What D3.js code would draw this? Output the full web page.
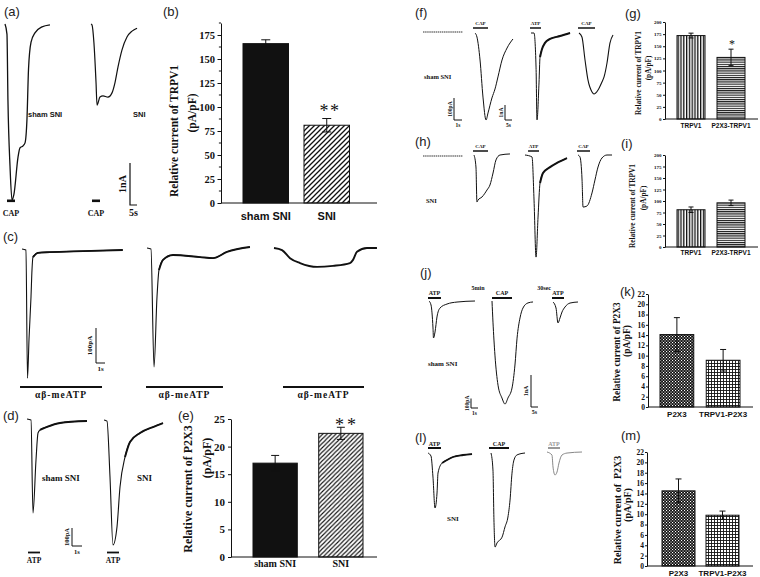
<!DOCTYPE html>
<html><head><meta charset="utf-8">
<script src="https://cdn.jsdelivr.net/npm/d3@7"></script>
<style>body{margin:0;background:#fff}svg{display:block}</style>
</head><body>
<script>
// ================= DATA =================
// Bar charts
const sniCats = ["sham SNI", "SNI"];
const bValues = [166, 81];
const bErrors = [4, 7];
const bTicks = [0, 25, 50, 75, 100, 125, 150, 175];
const bMinorTicks = [12.5, 37.5, 62.5, 87.5, 112.5, 137.5, 162.5, 187.5];
const eValues = [17.0, 22.4];
const eErrors = [1.4, 1.1];
const eTicks = [0, 5, 10, 15, 20, 25];
const trpvCats = ["TRPV1", "P2X3-TRPV1"];
const gValues = [172, 127];
const gErrors = [5, 17];
const iValues = [81, 96];
const iErrors = [6, 6];
const trpvTicks = [0, 25, 50, 75, 100, 125, 150, 175, 200];
const p2x3Cats = ["P2X3", "TRPV1-P2X3"];
const kValues = [14.1, 9.1];
const kErrors = [3.3, 2.1];
const mValues = [14.5, 9.8];
const mErrors = [2.3, 0.8];
const p2x3Ticks = [0, 2, 4, 6, 8, 10, 12, 14, 16, 18, 20, 22];

// Current traces: [time (s), current] ; CAP traces in nA, ATP / abMeATP traces in pA
const traceA1 = [[0,0],[1.4,-0.24],[2.1,-1.81],[3.6,-3.40],[5.0,-4.19],[6.4,-4.05],[9.3,-3.17],[10.7,-2.95],[12.9,-2.90],[14.3,-2.83],[15.7,-2.26],[16.8,-1.07],[18.6,-0.43],[21.4,-0.21],[26.4,-0.07],[32.1,-0.02]];
const traceA2 = [[0,0],[0.7,-0.02],[2.1,-0.45],[3.6,-1.40],[4.3,-1.93],[6.4,-1.74],[8.6,-1.71],[12.1,-1.74],[15.0,-1.64],[17.1,-1.40],[19.3,-1.02],[22.1,-0.62],[25.7,-0.31],[29.3,-0.17],[32.9,-0.10]];
const traceC1 = [[0,0],[0.44,-3],[0.61,-369],[0.78,-257],[1.0,-137],[1.11,-60],[1.22,-23],[1.78,-11],[3.1,-9],[6.8,-6],[11.2,-3]];
const traceC2 = [[0,0],[0.44,-3],[0.78,-340],[1.11,-140],[1.33,-63],[1.78,-34],[2.89,-20],[5.89,-26],[7.33,-29],[8.89,-11],[11.44,3]];
const traceC3 = [[0,0],[0.89,-6],[1.78,-29],[2.89,-43],[4.78,-54],[6.56,-51],[8.44,-43],[8.78,-34],[9.22,-11],[10.33,0],[11.44,0]];
const traceD1 = [[0,0],[0.4,-6],[0.6,-522],[0.9,-228],[1.1,-78],[1.3,-61],[2.0,-44],[3.3,-22],[6.0,-11]];
const traceD2 = [[0,0],[0.3,-6],[0.6,-317],[0.9,-694],[1.3,-594],[1.6,-372],[2.1,-206],[2.6,-122],[3.6,-72],[4.9,-39],[5.9,-17]];
const traceF0 = [[0,0],[5,0]];
const traceF1 = [[0,0],[1.4,-0.27],[3.6,-1.8],[5.7,-4.27],[7.9,-5.8],[9.3,-5.33],[12.1,-4.33],[14.3,-3.73],[16.4,-2.93],[19.3,-1.8],[22.9,-1.0],[27.1,-0.4]];
const traceF2 = [[0,0],[0.38,0],[0.63,-155],[0.75,-395],[1.0,-227],[1.13,-109],[1.38,-73],[1.75,-45],[2.38,-27],[3.63,-14],[4.88,0]];
const traceF3 = [[0,0],[2.1,-0.27],[4.3,-1.8],[6.4,-3.13],[9.3,-3.93],[10.7,-4.07],[13.6,-3.8],[16.4,-3.27],[17.9,-2.93],[20,-2.0],[22.1,-0.67],[24.3,-0.13]];
const traceH0 = [[0,0],[5,0]];
const traceH1 = [[0,0],[1.4,-0.8],[2.1,-3.13],[2.9,-3.0],[5.7,-2.8],[9.3,-2.33],[11.4,-2.0],[13.6,-1.2],[15.7,-0.33],[18.6,0],[25.7,0.07]];
const traceH2 = [[0,0],[0.88,-9],[1.13,-205],[1.38,-464],[1.63,-282],[1.88,-127],[2.25,-82],[3.13,-55],[4.0,-36],[5.25,-14]];
const traceH3 = [[0,0],[1.4,-0.13],[2.9,-1.67],[3.6,-3.47],[6.4,-3.4],[10.0,-2.53],[12.1,-1.67],[14.3,-0.8],[17.1,-0.2],[20.7,0],[24.3,0]];
const traceJ1 = [[0,0],[0.29,-42],[0.57,-284],[0.64,-389],[0.86,-326],[1.14,-168],[1.57,-74],[2.57,-32],[4.0,-11],[6.57,0]];
const traceJ2 = [[0,0],[0.7,-0.66],[2.1,-1.69],[4.3,-2.63],[7.1,-3.03],[9.3,-3.22],[11.4,-3.03],[14.3,-2.72],[16.4,-2.0],[17.9,-1.16],[20,-0.53],[22.1,-0.22],[25.7,-0.06],[29.3,-0.03]];
const traceJ3 = [[0,0],[0.43,-63],[0.71,-221],[1.0,-168],[1.29,-105],[1.71,-53],[2.43,-11],[3.57,0]];
const traceL1 = [[0,0],[0.43,-32],[0.71,-253],[1.0,-579],[1.29,-421],[1.43,-211],[2.0,-105],[2.71,-74],[3.57,-42],[5.0,-21],[6.29,-11]];
const traceL2 = [[0,0],[1.4,-0.53],[2.1,-2.09],[2.9,-2.94],[4.3,-2.81],[7.9,-2.63],[10,-2.31],[12.1,-2.0],[13.6,-1.47],[15,-0.63],[16.4,-0.22],[18.6,-0.06],[24.3,0]];
const traceL3 = [[0,0],[0.71,-32],[0.86,-158],[1.14,-242],[1.43,-211],[1.71,-116],[2.14,-32],[2.86,-11],[5.0,0]];

// Drug applications [on (s), off (s)] relative to each trace start
const drugA = [[1.43, 7.14], [0.71, 6.43]];
const drugC = [[-0.22, 8.89], [-0.11, 8.44], [1.0, 10.0]];
const drugD = [[0.1, 1.3], [0.3, 1.5]];
const drugF = [[-1.43, 9.29], [-0.13, 1.25], [-0.71, 11.43]];
const drugH = [[-0.71, 10.0], [0.38, 1.75], [-0.71, 8.57]];
const drugJ = [[-0.14, 1.71], [0, 14.3], [-0.14, 1.57]];
const drugL = [[0, 1.86], [-1.43, 12.86], [0.14, 1.86]];

// ================= DRAWING =================
const INK = '#111';
const SERIF = '"Liberation Serif","Times New Roman",Times,serif';
const SANS = '"Liberation Sans",Arial,Helvetica,sans-serif';
const svg = d3.select('body').append('svg').attr('width', 760).attr('height', 577);
svg.append('rect').attr('width', 760).attr('height', 577).attr('fill', '#fff');

const defs = svg.append('defs');
function pat(id, w, h, draw) {
  const p = defs.append('pattern').attr('id', id).attr('patternUnits', 'userSpaceOnUse').attr('width', w).attr('height', h);
  draw(p);
}
pat('hatchB', 5, 5, p => {
  p.append('rect').attr('width', 5).attr('height', 5).attr('fill', '#fff');
  p.append('path').attr('d', 'M-1,1L1,-1M0,5L5,0M4,6L6,4').attr('stroke', INK).attr('stroke-width', 1.3);
});
pat('hatchE', 4.4, 4.4, p => {
  p.append('rect').attr('width', 4.4).attr('height', 4.4).attr('fill', '#fff');
  p.append('path').attr('d', 'M-1,1L1,-1M0,4.4L4.4,0M3.4,5.4L5.4,3.4').attr('stroke', INK).attr('stroke-width', 1.1);
});
pat('vstripe', 2.8, 4, p => {
  p.append('rect').attr('width', 2.8).attr('height', 4).attr('fill', '#fff');
  p.append('rect').attr('width', 1.3).attr('height', 4).attr('fill', INK);
});
pat('hstripe', 4, 2.2, p => {
  p.append('rect').attr('width', 4).attr('height', 2.2).attr('fill', '#fff');
  p.append('rect').attr('width', 4).attr('height', 1.1).attr('fill', INK);
});
pat('checker', 3, 3, p => {
  p.append('rect').attr('width', 3).attr('height', 3).attr('fill', INK);
  p.append('rect').attr('width', 1.1).attr('height', 1.1).attr('fill', '#fff');
  p.append('rect').attr('x', 1.5).attr('y', 1.5).attr('width', 1.1).attr('height', 1.1).attr('fill', '#fff');
});
pat('grid', 3, 3, p => {
  p.append('rect').attr('width', 3).attr('height', 3).attr('fill', '#fff');
  p.append('rect').attr('width', 3).attr('height', 0.9).attr('fill', INK);
  p.append('rect').attr('width', 0.9).attr('height', 3).attr('fill', INK);
});

function txt(x, y, s, size, family, o = {}) {
  return svg.append('text').attr('x', x).attr('y', y).text(s)
    .attr('font-size', size).attr('font-family', family)
    .attr('font-weight', o.weight || 'normal').attr('text-anchor', o.anchor || 'start')
    .attr('fill', o.fill || INK).style('white-space', 'pre');
}
function vtxt(cx, cy, s, size, family, weight) {
  return svg.append('text').attr('transform', `translate(${cx},${cy}) rotate(-90)`)
    .attr('text-anchor', 'middle').attr('dominant-baseline', 'central').text(s)
    .attr('font-size', size).attr('font-family', family).attr('font-weight', weight || 'bold')
    .attr('fill', INK).style('white-space', 'pre');
}

// ---- traces ----
function recording(data, x0, y0, pxPerSec, pxPerUnit, o = {}) {
  const x = d3.scaleLinear().domain([0, 1]).range([x0, x0 + pxPerSec]);
  const y = d3.scaleLinear().domain([0, -1]).range([y0, y0 + pxPerUnit]);
  const line = d3.line().x(d => x(d[0])).y(d => y(d[1])).curve(d3.curveMonotoneX);
  const col = o.color || INK;
  svg.append('path').attr('d', line(data)).attr('fill', 'none').attr('stroke', col)
    .attr('stroke-width', o.w || 1).attr('stroke-linejoin', 'round')
    .attr('stroke-dasharray', o.dash || null);
  if (o.noisyFrom != null) {
    svg.append('path').attr('d', line(data.filter(d => d[0] >= o.noisyFrom))).attr('fill', 'none')
      .attr('stroke', col).attr('stroke-width', o.nw || 1.9).attr('stroke-linejoin', 'round');
  }
  return { x, y };
}
function drug(sc, span, yBar, thick, label, yText, size, color, spacing) {
  const c = color || INK;
  svg.append('line').attr('x1', sc.x(span[0])).attr('x2', sc.x(span[1]))
    .attr('y1', yBar).attr('y2', yBar).attr('stroke', c).attr('stroke-width', thick);
  txt((sc.x(span[0]) + sc.x(span[1])) / 2, yText, label, size, SERIF, { weight: 'bold', anchor: 'middle', fill: c })
    .attr('letter-spacing', spacing || 0);
}
function scaleBar(sc, cx, cy, yUnits, xUnits, yLabel, xLabel, size, sw) {
  const h = sc.y(-yUnits) - sc.y(0);
  const w = sc.x(xUnits) - sc.x(0);
  svg.append('path').attr('d', `M${cx},${cy - h}V${cy}H${cx + w}`).attr('fill', 'none')
    .attr('stroke', INK).attr('stroke-width', sw || 1);
  vtxt(cx - 0.8 * size, cy - h / 2, yLabel, size, SERIF, 'bold');
  txt(cx + w / 2, cy + size + 1, xLabel, size, SERIF, { weight: 'bold', anchor: 'middle' });
}

// Panel (a) : 1 nA / 5 s
const aA1 = recording(traceA1, 5, 24, 1.4, 42, { w: 1.3 });
const aA2 = recording(traceA2, 91, 24, 1.4, 42, { w: 1.2 });
drug(aA1, drugA[0], 200.8, 2.6, 'CAP', 216, 8, INK);
drug(aA2, drugA[1], 200.8, 2.6, 'CAP', 216, 8, INK);
scaleBar(aA1, 130, 205, 1, 5, '1nA', '5s', 10, 1.2);
txt(28, 117, 'sham SNI', 7.5, SANS, { weight: 'bold' });
txt(133, 117, 'SNI', 7.5, SANS, { weight: 'bold' });

// Panel (c) : 100 pA / 1 s
const cC1 = recording(traceC1, 22, 249, 9, 0.35, { w: 1.1, noisyFrom: 1.2 });
const cC2 = recording(traceC2, 147, 248, 9, 0.35, { w: 1.1, noisyFrom: 1.3 });
const cC3 = recording(traceC3, 274, 248, 9, 0.35, { w: 1.9 });
[cC1, cC2, cC3].forEach((sc, i) => drug(sc, drugC[i], 387, 2.2, 'αβ-meATP', 398, 9.5, INK, 1));
scaleBar(cC1, 96, 363, 100, 1, '100pA', '1s', 7, 1);

// Panel (d) : 100 pA / 1 s
const dD1 = recording(traceD1, 27, 419, 10, 0.18, { w: 1.1, noisyFrom: 1.3 });
const dD2 = recording(traceD2, 104, 420, 10, 0.18, { w: 1.1, noisyFrom: 2.1 });
drug(dD1, drugD[0], 552.5, 1.8, 'ATP', 563, 7.5, INK);
drug(dD2, drugD[1], 552.5, 1.8, 'ATP', 563, 7.5, INK);
scaleBar(dD1, 72, 546, 100, 1, '100pA', '1s', 6.5, 1);
txt(42, 481, 'sham SNI', 9, SERIF, { weight: 'bold' });
txt(137, 481, 'SNI', 9, SERIF, { weight: 'bold' });

// Panel (f)/(h) : CAP 1 nA / 5 s ; ATP 100 pA / 1 s
const fF0 = recording(traceF0, 423, 32, 8, 0.22, { w: 1.2, dash: '1.5,0.6', color: '#333' });
const fF1 = recording(traceF1, 475, 33, 1.4, 15, { w: 1 });
const fF2 = recording(traceF2, 531, 33, 8, 0.22, { w: 1, noisyFrom: 1.13, nw: 2 });
const fF3 = recording(traceF3, 579, 33, 1.4, 15, { w: 1.1 });
drug(fF1, drugF[0], 28, 1.5, 'CAP', 24.5, 5, INK);
drug(fF2, drugF[1], 28, 1.5, 'ATP', 24.5, 5, INK);
drug(fF3, drugF[2], 28, 1.5, 'CAP', 24.5, 5, INK);
scaleBar(fF2, 454, 120, 100, 1, '100pA', '1s', 5.5, 1);
scaleBar(fF1, 505, 120, 1, 5, '1nA', '5s', 5.5, 1);
txt(424, 79, 'sham SNI', 6.5, SERIF, { weight: 'bold' });

const hH0 = recording(traceH0, 423, 156, 8, 0.22, { w: 1.2, dash: '1.5,0.6', color: '#333' });
const hH1 = recording(traceH1, 474, 155, 1.4, 15, { w: 1 });
const hH2 = recording(traceH2, 525, 155, 8, 0.22, { w: 1, noisyFrom: 1.88, nw: 2 });
const hH3 = recording(traceH3, 578, 155, 1.4, 15, { w: 1 });
drug(hH1, drugH[0], 151, 1.5, 'CAP', 147.5, 5, INK);
drug(hH2, drugH[1], 151, 1.5, 'ATP', 147.5, 5, INK);
drug(hH3, drugH[2], 151, 1.5, 'CAP', 147.5, 5, INK);
txt(426, 203, 'SNI', 6.5, SERIF, { weight: 'bold' });

// Panel (j)/(l) : CAP 1 nA / 5 s ; ATP 100 pA / 1 s
const jJ1 = recording(traceJ1, 429, 301, 7, 0.095, { w: 1 });
const jJ2 = recording(traceJ2, 492, 301, 1.4, 32, { w: 1 });
const jJ3 = recording(traceJ3, 553, 302, 7, 0.095, { w: 1 });
drug(jJ1, drugJ[0], 298, 2, 'ATP', 295, 6, INK);
drug(jJ2, drugJ[1], 298, 2, 'CAP', 295, 6, INK);
drug(jJ3, drugJ[2], 298, 2, 'ATP', 295, 6, INK);
txt(478, 290, '5min', 6, SERIF, { weight: 'bold', anchor: 'middle' });
txt(544, 290, '30sec', 6, SERIF, { weight: 'bold', anchor: 'middle' });
scaleBar(jJ1, 471, 408, 100, 1, '100pA', '1s', 5.5, 1);
scaleBar(jJ2, 531, 407, 1, 5, '1nA', '5s', 6, 1);
txt(428, 366, 'sham SNI', 7, SERIF, { weight: 'bold' });

const lL1 = recording(traceL1, 428, 453, 7, 0.095, { w: 1, noisyFrom: 2.0, nw: 1.8 });
const lL2 = recording(traceL2, 491, 453, 1.4, 32, { w: 1 });
const lL3 = recording(traceL3, 547, 452, 7, 0.095, { w: 1, color: '#888' });
drug(lL1, drugL[0], 448, 2, 'ATP', 445.5, 6, INK);
drug(lL2, drugL[1], 448, 2, 'CAP', 445.5, 6, INK);
drug(lL3, drugL[2], 448, 2, 'ATP', 445.5, 6, '#999');
txt(447, 521, 'SNI', 7, SERIF, { weight: 'bold' });

// ---- bar charts ----
function barChart(o) {
  const y = d3.scaleLinear().domain(o.domain).range([o.y0, o.y1]);
  const x = d3.scaleBand().domain(o.cats).range(o.xRange).paddingInner(o.pad).paddingOuter(0);
  const g = svg.append('g');
  g.selectAll('rect.bar').data(o.values).join('rect').attr('class', 'bar')
    .attr('x', (d, i) => x(o.cats[i])).attr('width', x.bandwidth())
    .attr('y', d => y(d)).attr('height', d => y(0) - y(d))
    .attr('fill', (d, i) => o.fills[i]).attr('stroke', INK).attr('stroke-width', 1);
  o.values.forEach((v, i) => {
    const cx = x(o.cats[i]) + x.bandwidth() / 2, e = o.errors[i], c = o.cap / 2;
    g.append('path').attr('d', `M${cx},${y(v - e)}V${y(v + e)}M${cx - c},${y(v + e)}H${cx + c}M${cx - c},${y(v - e)}H${cx + c}`)
      .attr('stroke', INK).attr('stroke-width', o.ew || 1).attr('fill', 'none');
  });
  const axis = d3.axisLeft(y).tickValues(o.ticks).tickSize(o.tickLen).tickSizeOuter(0)
    .tickPadding(o.tickPad).tickFormat(d3.format('d'));
  const ga = g.append('g').attr('transform', `translate(${o.axisX},0)`).call(axis)
    .attr('font-family', SERIF).attr('font-size', o.tickFont).attr('font-weight', 'bold');
  ga.selectAll('path,line').attr('stroke', INK).attr('stroke-width', 1);
  ga.selectAll('text').attr('fill', INK);
  if (o.minor) {
    g.selectAll('line.minor').data(o.minor).join('line').attr('class', 'minor')
      .attr('x1', o.axisX - o.tickLen * 0.6).attr('x2', o.axisX)
      .attr('y1', d => y(d)).attr('y2', d => y(d)).attr('stroke', INK).attr('stroke-width', 1);
  }
  g.append('line').attr('x1', o.axisX).attr('x2', o.axisEnd).attr('y1', y(0)).attr('y2', y(0))
    .attr('stroke', INK).attr('stroke-width', 1);
  o.cats.forEach(c => txt(x(c) + x.bandwidth() / 2, o.catY, c, o.catFont, o.catFamily, { weight: 'bold', anchor: 'middle' }));
  o.titles.forEach(t => vtxt(t.x, t.y, t.text, o.titleFont, SERIF, 'bold'));
  return { x, y };
}

barChart({ cats: sniCats, values: bValues, errors: bErrors, ticks: bTicks, minor: bMinorTicks,
  domain: [0, 187.5], y0: 203, y1: 23, xRange: [243, 349.5], pad: 0.254, axisX: 221, axisEnd: 377,
  tickLen: 3.5, tickPad: 2.5, tickFont: 10.5, cap: 9, fills: [INK, 'url(#hatchB)'],
  catY: 220, catFont: 11, catFamily: SANS, titleFont: 11.5,
  titles: [{ text: 'Relative current of TRPV1', x: 174, y: 131 }, { text: '(pA/pF)', x: 192, y: 113 }] });
txt(330, 117, '**', 18, SERIF, { anchor: 'middle' }).attr('letter-spacing', 1.5);

barChart({ cats: sniCats, values: eValues, errors: eErrors, ticks: eTicks,
  domain: [0, 25], y0: 557, y1: 419, xRange: [253, 363], pad: 0.326, axisX: 231, axisEnd: 377,
  tickLen: 3, tickPad: 3, tickFont: 11, cap: 8, fills: [INK, 'url(#hatchE)'],
  catY: 567, catFont: 10, catFamily: SERIF, titleFont: 12,
  titles: [{ text: 'Relative current of P2X3', x: 188, y: 489 }, { text: '(pA/pF)', x: 207, y: 458 }] });
txt(347, 431, '**', 18, SERIF, { anchor: 'middle' }).attr('letter-spacing', 3);

barChart({ cats: trpvCats, values: gValues, errors: gErrors, ticks: trpvTicks,
  domain: [0, 200], y0: 119, y1: 22, xRange: [677, 745], pad: 0.3, axisX: 665, axisEnd: 758,
  tickLen: 2, tickPad: 1.5, tickFont: 5, cap: 5, fills: ['url(#vstripe)', 'url(#hstripe)'],
  catY: 128, catFont: 6.5, catFamily: SANS, titleFont: 7.3,
  titles: [{ text: 'Relative current of TRPV1', x: 638, y: 73 }, { text: '(pA/pF)', x: 648, y: 68 }] });
txt(732, 48, '*', 12, SERIF, { anchor: 'middle' });

barChart({ cats: trpvCats, values: iValues, errors: iErrors, ticks: trpvTicks,
  domain: [0, 200], y0: 247, y1: 155, xRange: [677, 745], pad: 0.3, axisX: 665, axisEnd: 758,
  tickLen: 2, tickPad: 1.5, tickFont: 5, cap: 5, fills: ['url(#vstripe)', 'url(#hstripe)'],
  catY: 255, catFont: 6.5, catFamily: SANS, titleFont: 7.3,
  titles: [{ text: 'Relative current of TRPV1', x: 632, y: 206 }, { text: '(pA/pF)', x: 643, y: 198 }] });

barChart({ cats: p2x3Cats, values: kValues, errors: kErrors, ticks: p2x3Ticks,
  domain: [0, 22], y0: 407, y1: 294, xRange: [660, 740], pad: 0.27, axisX: 648, axisEnd: 753,
  tickLen: 2, tickPad: 1, tickFont: 7.5, cap: 6, fills: ['url(#checker)', 'url(#grid)'],
  catY: 417, catFont: 8, catFamily: SANS, titleFont: 9.4,
  titles: [{ text: 'Relative current of P2X3', x: 617, y: 352 }, { text: '(pA/pF)', x: 627, y: 341 }] });

barChart({ cats: p2x3Cats, values: mValues, errors: mErrors, ticks: p2x3Ticks,
  domain: [0, 22], y0: 566, y1: 452, xRange: [662, 739], pad: 0.25, axisX: 647, axisEnd: 753,
  tickLen: 2, tickPad: 1, tickFont: 7.5, cap: 6, fills: ['url(#checker)', 'url(#grid)'],
  catY: 576, catFont: 8, catFamily: SANS, titleFont: 10,
  titles: [{ text: 'Relative current of  P2X3', x: 617, y: 510 }, { text: '(pA/pF)', x: 627, y: 505 }] });

// ---- panel letters ----
const letters = [['(a)', 4, 16], ['(b)', 163, 16], ['(c)', 3, 241], ['(d)', 3, 420], ['(e)', 178, 420],
  ['(f)', 415, 17], ['(g)', 625, 18], ['(h)', 415, 146], ['(i)', 621, 148], ['(j)', 420, 277],
  ['(k)', 620, 296], ['(l)', 415, 442], ['(m)', 621, 440]];
letters.forEach(l => txt(l[1], l[2], l[0], 13, SANS, { fill: '#222' }));
</script>
</body></html>
